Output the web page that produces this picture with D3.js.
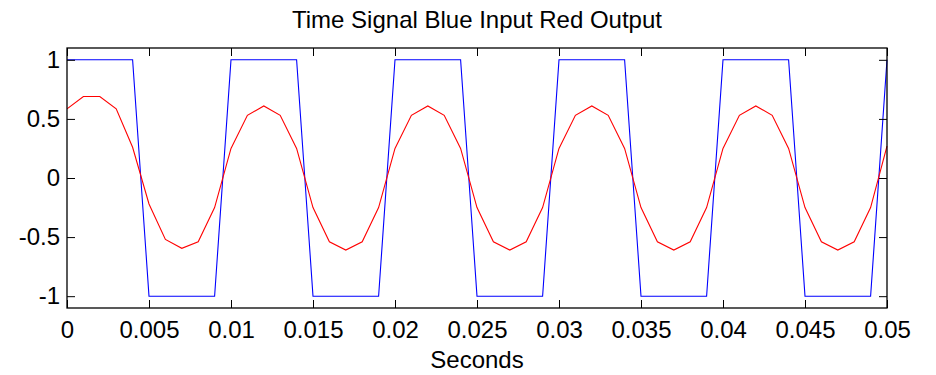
<!DOCTYPE html>
<html>
<head>
<meta charset="utf-8">
<script src="https://cdn.jsdelivr.net/npm/d3@7"></script>
<style>
  html, body { margin: 0; padding: 0; background: #fff; }
  text { font-family: "Liberation Sans", Arial, sans-serif; fill: #000; }
</style>
</head>
<body>
<svg id="chart" width="936" height="375"></svg>
<script>
// Data (sampled every 0.001 s)
const time = d3.range(0, 51).map(i => +(i * 0.001).toFixed(3));
const inputSignal = [
  1, 1, 1, 1, 1, -1, -1, -1, -1, -1,
  1, 1, 1, 1, 1, -1, -1, -1, -1, -1,
  1, 1, 1, 1, 1, -1, -1, -1, -1, -1,
  1, 1, 1, 1, 1, -1, -1, -1, -1, -1,
  1, 1, 1, 1, 1, -1, -1, -1, -1, -1,
  1
];
const outputSignal = [
  0.585, 0.69, 0.69, 0.585, 0.26, -0.22, -0.52, -0.595, -0.54, -0.25,
  0.25, 0.53, 0.61, 0.53, 0.25, -0.25, -0.54, -0.61, -0.54, -0.25,
  0.25, 0.53, 0.61, 0.53, 0.25, -0.25, -0.54, -0.61, -0.54, -0.25,
  0.25, 0.53, 0.61, 0.53, 0.25, -0.25, -0.54, -0.61, -0.54, -0.25,
  0.25, 0.53, 0.61, 0.53, 0.25, -0.25, -0.54, -0.61, -0.54, -0.25,
  0.27
];
const xTicks = [0, 0.005, 0.01, 0.015, 0.02, 0.025, 0.03, 0.035, 0.04, 0.045, 0.05];
const xTickLabels = ["0", "0.005", "0.01", "0.015", "0.02", "0.025", "0.03", "0.035", "0.04", "0.045", "0.05"];
const yTicks = [-1, -0.5, 0, 0.5, 1];
const yTickLabels = ["-1", "-0.5", "0", "0.5", "1"];
const titleText = "Time Signal Blue Input Red Output";
const xLabelText = "Seconds";

const svg = d3.select("#chart");
const mLeft = 67, mRight = 887, mTop = 48, mBottom = 308;
const x = d3.scaleLinear().domain([0, 0.05]).range([mLeft, mRight]);
const y = d3.scaleLinear().domain([-1.1, 1.1]).range([mBottom, mTop]);
const fs = 24;
const tickLen = 8;

// Clip
svg.append("defs").append("clipPath").attr("id", "clip")
  .append("rect").attr("x", mLeft).attr("y", mTop).attr("width", mRight - mLeft + 2).attr("height", mBottom - mTop);

const line = (vals) => d3.line().x((d, i) => x(time[i])).y(d => y(d))(vals);

const g = svg.append("g").attr("clip-path", "url(#clip)");
g.append("path").attr("d", line(inputSignal)).attr("fill", "none").attr("stroke", "#0000ff").attr("stroke-width", 1.1);
g.append("path").attr("d", line(outputSignal)).attr("fill", "none").attr("stroke", "#ff0000").attr("stroke-width", 1.1);

// Axes
const axisBottom = d3.axisBottom(x).tickValues(xTicks).tickFormat((d, i) => xTickLabels[i]).tickSizeInner(-tickLen).tickSizeOuter(0);
const axisTop = d3.axisTop(x).tickValues(xTicks).tickFormat("").tickSizeInner(-tickLen).tickSizeOuter(0);
const axisLeft = d3.axisLeft(y).tickValues(yTicks).tickFormat((d, i) => yTickLabels[i]).tickSizeInner(-tickLen).tickSizeOuter(0);
const axisRight = d3.axisRight(y).tickValues(yTicks).tickFormat("").tickSizeInner(-tickLen).tickSizeOuter(0);

function styleAxis(sel) {
  sel.select(".domain").remove();
  sel.selectAll(".tick line").attr("stroke", "#000").attr("stroke-width", 1);
  sel.selectAll(".tick text").style("font-size", fs + "px").style("font-family", '"Liberation Sans", Arial, sans-serif').attr("fill", "#000");
}
const gb = svg.append("g").attr("transform", `translate(0,${mBottom})`).call(axisBottom).call(styleAxis);
gb.selectAll(".tick text").attr("dy", null).attr("y", 30);
svg.append("g").attr("transform", `translate(0,${mTop})`).call(axisTop).call(styleAxis);
const gl = svg.append("g").attr("transform", `translate(${mLeft},0)`).call(axisLeft).call(styleAxis);
gl.selectAll(".tick text").attr("x", -7);
svg.append("g").attr("transform", `translate(${mRight},0)`).call(axisRight).call(styleAxis);

// Frame
svg.append("rect").attr("x", mLeft).attr("y", mTop).attr("width", mRight - mLeft).attr("height", mBottom - mTop)
  .attr("fill", "none").attr("stroke", "#000").attr("stroke-width", 1.3);

// Title and label
svg.append("text").attr("x", (mLeft + mRight) / 2).attr("y", 28).attr("text-anchor", "middle")
  .style("font-size", fs + "px").text(titleText);
svg.append("text").attr("x", (mLeft + mRight) / 2).attr("y", 368).attr("text-anchor", "middle")
  .style("font-size", fs + "px").text(xLabelText);
</script>
</body>
</html>
